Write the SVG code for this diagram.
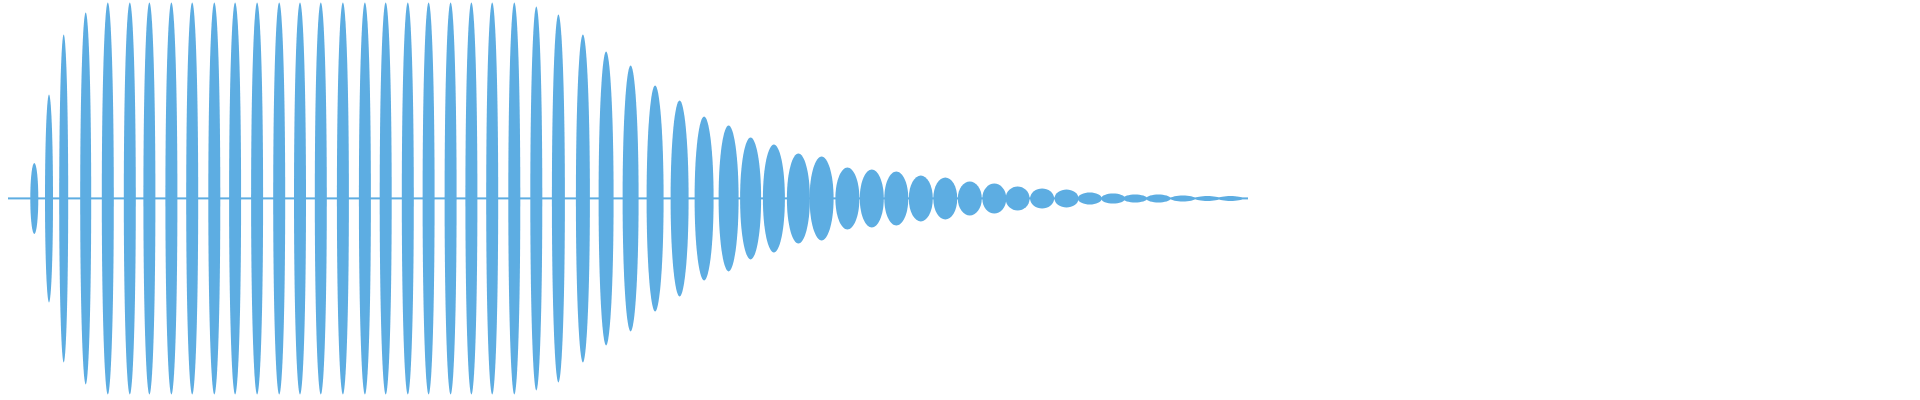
<svg xmlns="http://www.w3.org/2000/svg" width="1920" height="400" viewBox="0 0 1920 400">
<style>.w{fill:#5dade2}</style>
<defs><path id="L" d="M-0.5 0C-0.5-0.6-0.25-1 0-1C0.25-1 0.5-0.6 0.5 0C0.5 0.6 0.25 1 0 1C-0.25 1-0.5 0.6-0.5 0Z"/></defs>
<rect width="1920" height="400" fill="#fff"/>
<g id="wave" class="w">
<rect x="8" y="197.4" width="1240" height="2"/>
<use href="#L" transform="translate(34.3,198.4) scale(8,35.5)"/>
<use href="#L" transform="translate(49,198.4) scale(8,104)"/>
<use href="#L" transform="translate(63.7,198.4) scale(9,164)"/>
<use href="#L" transform="translate(85.7,198.4) scale(11,186)"/>
<use href="#L" transform="translate(107.8,198.4) scale(12,196)"/>
<use href="#L" transform="translate(129.8,198.4) scale(12,196)"/>
<use href="#L" transform="translate(149.4,198.4) scale(12,196)"/>
<use href="#L" transform="translate(171.4,198.4) scale(12,196)"/>
<use href="#L" transform="translate(192.2,198.4) scale(12,196)"/>
<use href="#L" transform="translate(214.3,198.4) scale(12,196)"/>
<use href="#L" transform="translate(235.1,198.4) scale(12,196)"/>
<use href="#L" transform="translate(257.1,198.4) scale(12,196)"/>
<use href="#L" transform="translate(279.2,198.4) scale(12,196)"/>
<use href="#L" transform="translate(300,198.4) scale(12,196)"/>
<use href="#L" transform="translate(320.8,198.4) scale(12,196)"/>
<use href="#L" transform="translate(342.9,198.4) scale(12,196)"/>
<use href="#L" transform="translate(364.9,198.4) scale(12,196)"/>
<use href="#L" transform="translate(385.7,198.4) scale(12,196)"/>
<use href="#L" transform="translate(407.8,198.4) scale(12,196)"/>
<use href="#L" transform="translate(428.6,198.4) scale(12,196)"/>
<use href="#L" transform="translate(450.6,198.4) scale(12,196)"/>
<use href="#L" transform="translate(471.4,198.4) scale(12,196)"/>
<use href="#L" transform="translate(492.2,198.4) scale(12,196)"/>
<use href="#L" transform="translate(514.3,198.4) scale(12,196)"/>
<use href="#L" transform="translate(536.3,198.4) scale(12,192)"/>
<use href="#L" transform="translate(558.4,198.4) scale(13,184)"/>
<use href="#L" transform="translate(582.9,198.4) scale(14,164)"/>
<use href="#L" transform="translate(606.1,198.4) scale(15,147)"/>
<use href="#L" transform="translate(630.6,198.4) scale(16,133)"/>
<use href="#L" transform="translate(655.1,198.4) scale(17,113)"/>
<use href="#L" transform="translate(679.6,198.4) scale(18,98)"/>
<use href="#L" transform="translate(704.1,198.4) scale(19,82)"/>
<use href="#L" transform="translate(728.6,198.4) scale(20,73)"/>
<use href="#L" transform="translate(750.6,198.4) scale(21,61)"/>
<use href="#L" transform="translate(773.9,198.4) scale(22,54)"/>
<use href="#L" transform="translate(798.4,198.4) scale(23,45)"/>
<use href="#L" transform="translate(821.6,198.4) scale(24,42)"/>
<use href="#L" transform="translate(847.4,198.4) scale(24,31)"/>
<use href="#L" transform="translate(871.8,198.4) scale(24,29)"/>
<use href="#L" transform="translate(896.3,198.4) scale(24,27)"/>
<use href="#L" transform="translate(920.8,198.4) scale(24,23)"/>
<use href="#L" transform="translate(945.3,198.4) scale(24,21)"/>
<use href="#L" transform="translate(969.8,198.4) scale(24,17)"/>
<use href="#L" transform="translate(994.3,198.4) scale(24,15)"/>
<use href="#L" transform="translate(1017.6,198.4) scale(24,12)"/>
<use href="#L" transform="translate(1042.1,198.4) scale(24,10)"/>
<use href="#L" transform="translate(1066.5,198.4) scale(24,9)"/>
<use href="#L" transform="translate(1089.8,198.4) scale(24,6)"/>
<use href="#L" transform="translate(1113.1,198.4) scale(24,5)"/>
<use href="#L" transform="translate(1135.1,198.4) scale(24,4)"/>
<use href="#L" transform="translate(1158.4,198.4) scale(24,4)"/>
<use href="#L" transform="translate(1182.9,198.4) scale(24,3)"/>
<use href="#L" transform="translate(1207.4,198.4) scale(24,2.5)"/>
<use href="#L" transform="translate(1230.6,198.4) scale(24,2.5)"/>
</g>
</svg>
